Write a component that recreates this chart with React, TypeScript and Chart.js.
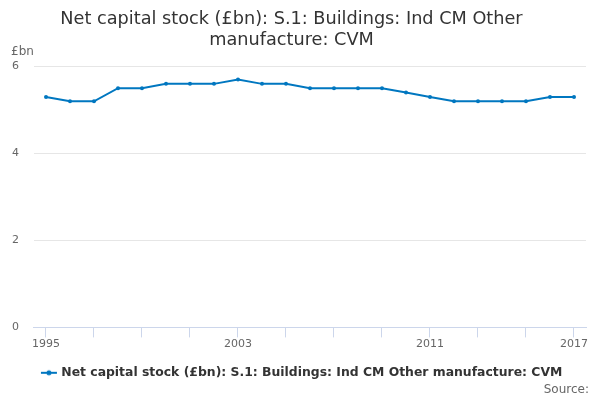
import React, { useEffect, useRef } from "react";
import { Chart, registerables } from "chart.js";

Chart.register(...registerables);

const years: string[] = [
  "1995", "1996", "1997", "1998", "1999", "2000", "2001", "2002", "2003", "2004", "2005", "2006",
  "2007", "2008", "2009", "2010", "2011", "2012", "2013", "2014", "2015", "2016", "2017",
];
const values: number[] = [
  5.3, 5.2, 5.2, 5.5, 5.5, 5.6, 5.6, 5.6, 5.7, 5.6, 5.6, 5.5,
  5.5, 5.5, 5.5, 5.4, 5.3, 5.2, 5.2, 5.2, 5.2, 5.3, 5.3,
];
const shownYearLabels: string[] = ["1995", "2003", "2011", "2017"];
const seriesName = "Net capital stock (£bn): S.1: Buildings: Ind CM Other manufacture: CVM";
const titleLines: string[] = ["Net capital stock (£bn): S.1: Buildings: Ind CM Other", "manufacture: CVM"];

const LINE = "#0077c0";
const FONT = "'DejaVu Sans', sans-serif";

function makeLegendSymbol(): HTMLCanvasElement {
  const c = document.createElement("canvas");
  c.width = 40;
  c.height = 8;
  const ctx = c.getContext("2d")!;
  ctx.strokeStyle = LINE;
  ctx.lineWidth = 2;
  ctx.beginPath();
  ctx.moveTo(23, 4);
  ctx.lineTo(39, 4);
  ctx.stroke();
  ctx.fillStyle = LINE;
  ctx.beginPath();
  ctx.arc(31, 4, 2.5, 0, Math.PI * 2);
  ctx.fill();
  return c;
}

const extrasPlugin = {
  id: "extras",
  afterDraw(chart: any) {
    const ctx = chart.ctx;
    ctx.save();
    ctx.fillStyle = "#666666";
    ctx.font = `12px ${FONT}`;
    ctx.textBaseline = "middle";
    ctx.textAlign = "left";
    ctx.fillText("£bn", 11, 52);
    ctx.textAlign = "right";
    ctx.fillText("Source:", 589, 390);
    ctx.restore();
  },
};

export default function App() {
  const ref = useRef<HTMLCanvasElement | null>(null);

  useEffect(() => {
    document.body.style.margin = "0";
    if (!ref.current) return;
    const symbol = makeLegendSymbol();
    const chart = new Chart(ref.current, {
      type: "line",
      data: {
        labels: years,
        datasets: [
          {
            label: seriesName,
            data: values,
            borderColor: LINE,
            backgroundColor: LINE,
            borderWidth: 2,
            pointRadius: 2,
            pointHoverRadius: 2,
            pointBackgroundColor: LINE,
            pointBorderWidth: 0,
            tension: 0,
          },
        ],
      },
      options: {
        animation: false,
        responsive: false,
        devicePixelRatio: 1,
        layout: { padding: { left: -3, right: 14, top: 0, bottom: 11 } },
        plugins: {
          tooltip: { enabled: false },
          title: {
            display: true,
            text: titleLines,
            color: "#333333",
            font: { family: FONT, size: 17.7, weight: "normal" },
            lineHeight: 1.24,
            padding: { top: 9, bottom: 15 },
          },
          legend: {
            display: true,
            position: "bottom",
            labels: {
              color: "#333333",
              font: { family: FONT, size: 12.4, weight: "bold" },
              usePointStyle: true,
              pointStyleWidth: 34.4,
              padding: 16,
              generateLabels: (c: any) =>
                c.data.datasets.map((ds: any, i: number) => ({
                  text: ds.label,
                  fillStyle: LINE,
                  strokeStyle: LINE,
                  pointStyle: symbol,
                  datasetIndex: i,
                  hidden: false,
                  fontColor: "#333333",
                })),
            },
          },
        },
        scales: {
          x: {
            type: "category",
            offset: true,
            border: { display: true, color: "#ccd6eb", width: 1 },
            grid: {
              drawOnChartArea: false,
              drawTicks: true,
              tickLength: 10,
              color: (ctx: any) => (ctx.index % 2 === 0 ? "#ccd6eb" : "rgba(0,0,0,0)"),
            },
            ticks: {
              autoSkip: false,
              maxRotation: 0,
              color: "#666666",
              font: { family: FONT, size: 11 },
              padding: 0,
              callback: (_v: any, i: number) => (shownYearLabels.includes(years[i]) ? years[i] : ""),
            },
          },
          y: {
            min: 0,
            max: 6,
            border: { display: false },
            grid: { color: "#e6e6e6", drawTicks: false },
            ticks: {
              stepSize: 2,
              color: "#666666",
              font: { family: FONT, size: 11 },
              padding: 15,
            },
          },
        },
      },
      plugins: [extrasPlugin],
    });
    return () => chart.destroy();
  }, []);

  return (
    <div style={{ width: 600, height: 400 }}>
      <canvas ref={ref} width={600} height={400} style={{ width: 600, height: 400, display: "block" }} />
    </div>
  );
}
